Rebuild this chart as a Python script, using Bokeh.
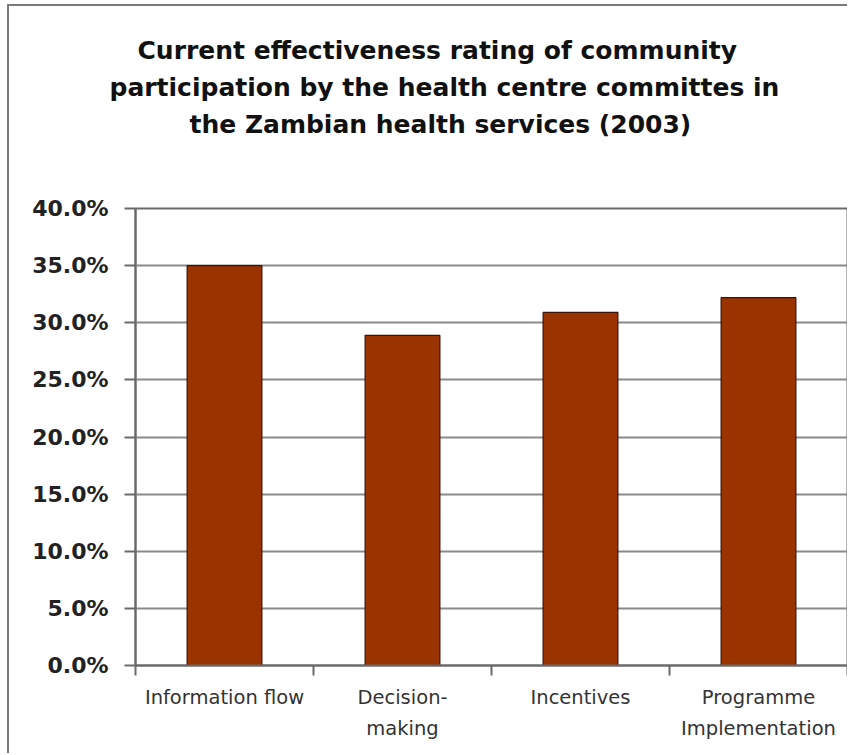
from bokeh.plotting import figure
from bokeh.models import (ColumnDataSource, FixedTicker, NumeralTickFormatter,
                          Range1d, Title)
from bokeh.embed import file_html
from bokeh.resources import INLINE

# ---- data ----
categories = ["Information flow", "Decision-\nmaking", "Incentives", "Programme\nImplementation"]
values = [0.350, 0.289, 0.309, 0.322]
y_ticks = [0.0, 0.05, 0.10, 0.15, 0.20, 0.25, 0.30, 0.35, 0.40]
title_lines = ["Current effectiveness rating of community",
               "participation by the health centre committes in",
               "the Zambian health services (2003)"]

centers = [i + 0.5 for i in range(len(categories))]
bounds = [float(i) for i in range(len(categories) + 1)]

# page offsets of the figure inside its bordered box
OX, OY = 9, 6
W, H = 851 - OX - 2, 755 - OY
FL, FR, FT, FB = 135 - OX, 847 - OX, 208 - OY, 665 - OY

p = figure(width=W, height=H, output_backend="svg", toolbar_location=None,
           x_range=Range1d(0, len(categories)), y_range=Range1d(0, 0.40),
           min_border_left=FL, min_border_right=W - FR,
           min_border_top=FT, min_border_bottom=H - FB,
           margin=(4, 0, 0, 7))
p.styles = {"border-left": "2px solid #7a7a7a", "border-top": "2px solid #7a7a7a"}
p.background_fill_color = "white"
p.border_fill_color = "white"
p.outline_line_color = "#6a6a6a"
p.outline_line_width = 2

src = ColumnDataSource(dict(x=centers, top=values))
p.vbar(x="x", top="top", width=0.42, bottom=0, source=src,
       fill_color="#993300", line_color="#3a1505", line_width=1.2)

# y axis
p.yaxis.ticker = FixedTicker(ticks=y_ticks)
p.yaxis.formatter = NumeralTickFormatter(format="0.0%")
p.yaxis.major_label_text_font = "DejaVu Sans"
p.yaxis.major_label_text_font_style = "bold"
p.yaxis.major_label_text_font_size = "22px"
p.yaxis.major_label_text_color = "#222222"
p.yaxis.major_label_standoff = 16
p.yaxis.major_tick_out = 11
p.yaxis.major_tick_in = 0
p.yaxis.minor_tick_line_color = None
p.yaxis.axis_line_color = "#6a6a6a"
p.yaxis.axis_line_width = 2
p.yaxis.major_tick_line_color = "#6a6a6a"
p.yaxis.major_tick_line_width = 2

# x axis
p.xaxis.ticker = FixedTicker(ticks=centers, minor_ticks=bounds)
p.xaxis.major_label_overrides = {c: t for c, t in zip(centers, categories)}
p.xaxis.major_tick_line_color = None
p.xaxis.minor_tick_out = 10
p.xaxis.minor_tick_in = 0
p.xaxis.minor_tick_line_color = "#6a6a6a"
p.xaxis.minor_tick_line_width = 2
p.xaxis.axis_line_color = "#6a6a6a"
p.xaxis.axis_line_width = 2
p.xaxis.major_label_text_font = "DejaVu Sans"
p.xaxis.major_label_text_font_size = "19.5px"
p.xaxis.major_label_text_color = "#333333"
p.xaxis.major_label_standoff = 10
p.xaxis.major_label_text_line_height = 1.35

# grid
p.xgrid.grid_line_color = None
p.ygrid.ticker = FixedTicker(ticks=y_ticks)
p.ygrid.grid_line_color = "#8a8a8a"
p.ygrid.grid_line_width = 2

# spacer between the title block and the plot area
p.add_layout(Title(text="\u00a0", text_font_size="2px", standoff=63), "above")

# title lines (left aligned with per-line offsets so they centre near x=437)
title_left = [137, 109, 189]
for t, lx in reversed(list(zip(title_lines, title_left))):
    p.add_layout(Title(text=t, align="left", offset=lx - 135,
                       text_font="DejaVu Sans", text_font_style="bold",
                       text_font_size="25px", text_color="#111111",
                       standoff=6), "above")

open("out.html", "w").write(file_html(p, INLINE))
